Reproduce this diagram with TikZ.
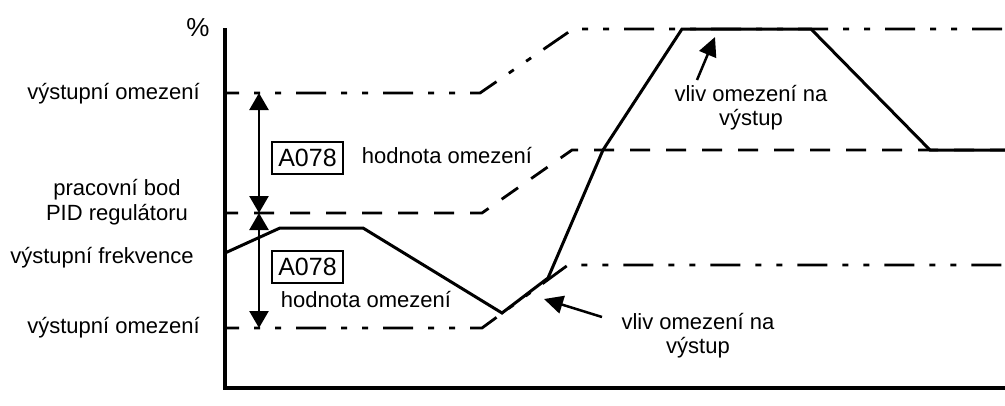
\documentclass[tikz,border=0pt]{standalone}
\usepackage{fontspec}
\setmainfont{Liberation Sans}
\usetikzlibrary{arrows.meta}
\begin{document}
\begin{tikzpicture}[x=1pt,y=-1pt,
  every node/.style={font=\fontsize{22}{24}\selectfont, inner sep=0pt},
  axisln/.style={line width=3.5pt},
  outcurve/.style={line width=3pt, line join=miter},
  dashln/.style={line width=2.8pt, dash pattern=on 20pt off 16pt},
  dashdotln/.style={line width=2.8pt, dash pattern=on 30pt off 15pt on 6pt off 15pt on 6pt off 15pt},
  dimarrow/.style={line width=2.5pt, {Triangle[width=19pt,length=17pt]}-{Triangle[width=19pt,length=17pt]}},
  notearrow/.style={line width=2.5pt, -{Triangle[width=18pt,length=19pt]}},
  boxlbl/.style={draw, line width=2pt, inner sep=3pt, font=\fontsize{25}{28}\selectfont}
]
\useasboundingbox (0,0) rectangle (1005,405);

% reference lines
\draw[dashdotln, dash phase=17pt] (226,93) -- (480,93) -- (573,29) -- (1005,29);
\draw[dashln, dash phase=8pt] (226,213) -- (482,213) -- (572,150) -- (1005,150);
\draw[dashdotln, dash phase=17pt] (226,328) -- (482,328) -- (568,265) -- (1005,265);

% output frequency
\draw[outcurve] (225,253) -- (280,228) -- (363,228) -- (502,313) -- (548,278)
  -- (603,150) -- (682,29) -- (811,29) -- (930,150) -- (1005,150);

% axes
\draw[axisln] (225,28) -- (225,388) -- (1005,388);

% dimension arrows
\coordinate (dtop) at (259,93);
\coordinate (dmid) at (259,213);
\coordinate (dbot) at (259,328);
\draw[dimarrow] (dtop) -- (dmid);
\draw[dimarrow] (dmid) -- (dbot);

% labels
\node[anchor=base, font=\fontsize{26}{28}\selectfont] (pct) at (198,36) {\%};
\node[anchor=base east] (lim1) at (200,99) {výstupní omezení};
\node[anchor=base, align=center, font=\fontsize{22}{25}\selectfont] (pid) at (117,220) {pracovní bod\\PID regulátoru};
\node[anchor=base] (freq) at (102,263) {výstupní frekvence};
\node[anchor=base east] (lim2) at (200,333) {výstupní omezení};

\node[boxlbl, minimum width=71pt, minimum height=32pt] (box1) at (307.5,158) {A078};
\node[boxlbl, minimum width=71pt, minimum height=32pt] (box2) at (307.5,266.5) {A078};
\node[anchor=base] (h1) at (447,163) {hodnota omezení};
\node[anchor=base] (h2) at (366,307) {hodnota omezení};

\node[anchor=base, align=center] (v1) at (751,125) {vliv omezení na\\výstup};
\node[anchor=base, align=center] (v2) at (698,353) {vliv omezení na\\výstup};

\coordinate (a1s) at (697,80);
\coordinate (a1e) at (715,37);
\coordinate (a2s) at (602,317);
\coordinate (a2e) at (544,299);
\draw[notearrow] (a1s) -- (a1e);
\draw[notearrow] (a2s) -- (a2e);
\end{tikzpicture}
\end{document}
